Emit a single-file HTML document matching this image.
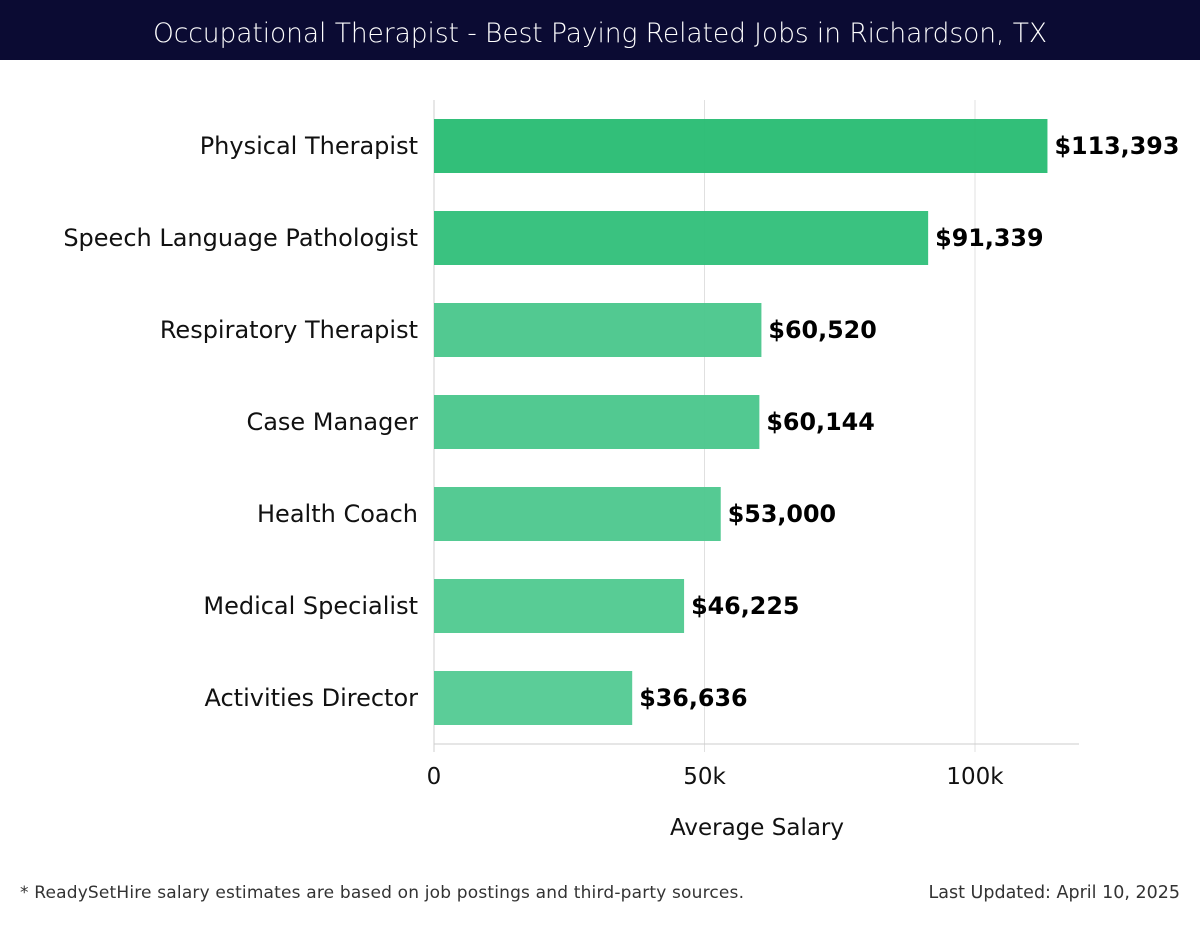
<!DOCTYPE html>
<html><head><meta charset="utf-8"><style>
body{margin:0;width:1200px;height:920px;background:#fff;font-family:"Liberation Sans","DejaVu Sans",sans-serif;overflow:hidden}
</style></head><body>
<svg width="1200" height="920" id="chart">
<rect x="0" y="0" width="1200" height="60" fill="#0b0b33"/>
<text x="600" y="42" text-anchor="middle" fill="#fff" font-size="26.5" font-family="'DejaVu Sans',sans-serif" font-weight="300" textLength="894">Occupational Therapist - Best Paying Related Jobs in Richardson, TX</text>
<g id="grid"></g><g id="bars"></g>
<text x="757" y="835" text-anchor="middle" font-size="23" fill="#111" font-family="'DejaVu Sans',sans-serif">Average Salary</text>
<text x="20" y="898" font-size="17" fill="#333" font-family="'DejaVu Sans',sans-serif" textLength="724">* ReadySetHire salary estimates are based on job postings and third-party sources.</text>
<text x="1180" y="898" text-anchor="end" font-size="17.5" fill="#333" font-family="'DejaVu Sans',sans-serif">Last Updated: April 10, 2025</text>
</svg>
<script>
const categories=["Physical Therapist","Speech Language Pathologist","Respiratory Therapist","Case Manager","Health Coach","Medical Specialist","Activities Director"];
const values=[113393,91339,60520,60144,53000,46225,36636];
const ticks=[0,50000,100000];
const tickLabels=["0","50k","100k"];
const colors=["#2bbd75","#34c07c","#4cc78d","#4cc78d","#4fc88f","#53ca92","#56cb95"];
const NS="http://www.w3.org/2000/svg";
const x=v=>434+v*(975-434)/100000;
const y=i=>146+i*92;
const grid=document.getElementById('grid'),bars=document.getElementById('bars');
function mk(p,tag,attrs){const e=document.createElementNS(NS,tag);for(const k in attrs)e.setAttribute(k,attrs[k]);p.appendChild(e);return e;}
ticks.forEach((t,i)=>{
 const l=mk(grid,'line',{x1:x(t),x2:x(t),y1:100,y2:752,stroke:i==0?'#cfcfcf':'#e0e0e0','stroke-width':1});
 
 
 const tx=mk(grid,'text',{x:x(t),y:784,'text-anchor':'middle','font-size':23,fill:'#111','font-family':"'DejaVu Sans',sans-serif"});
 tx.textContent=tickLabels[i];
 
 
});
const ax=mk(grid,'line',{x1:434,x2:1079,y1:744,y2:744,stroke:'#ccc'});


categories.forEach((c,i)=>{
 const r=mk(bars,'rect',{x:x(0),y:y(i)-27,width:x(values[i])-x(0),height:54,fill:colors[i],'fill-opacity':0.97});
 
 
 const lb=mk(bars,'text',{x:418,y:y(i)+8,'text-anchor':'end','font-size':24,fill:'#111','font-family':"'DejaVu Sans',sans-serif"});
 lb.textContent=c;
 
 
 const v=mk(bars,'text',{x:x(values[i])+7,y:y(i)+8,'font-size':23.8,'font-weight':'bold',fill:'#000','font-family':"'DejaVu Sans',sans-serif"});
 v.textContent='$'+values[i].toLocaleString('en-US');
 
 
});
</script>
</body></html>
